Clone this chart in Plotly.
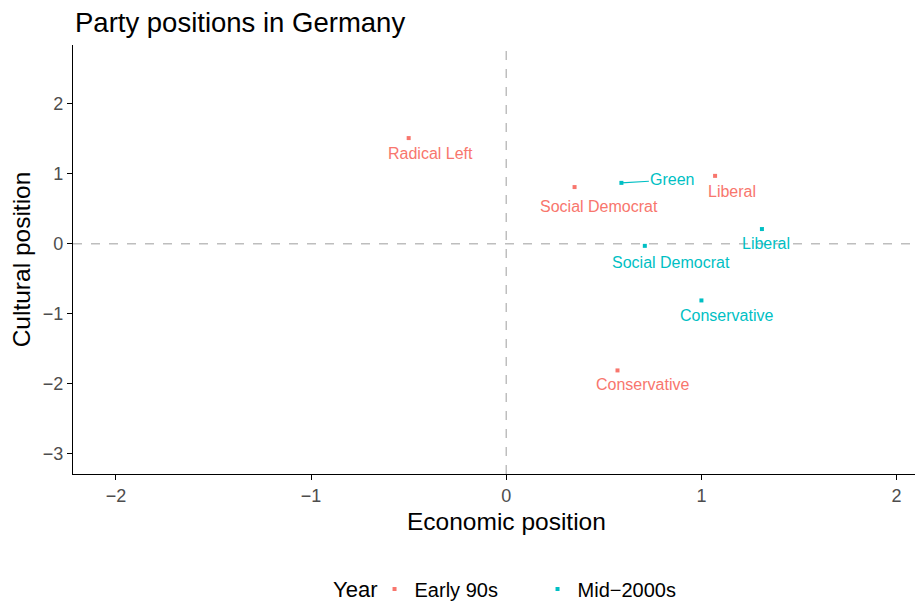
import plotly.graph_objects as go

# ---- data ----
parties_90s = ["Radical Left", "Social Democrat", "Liberal", "Conservative"]
econ_90s = [-0.50, 0.35, 1.07, 0.57]
cult_90s = [1.51, 0.81, 0.97, -1.81]

parties_00s = ["Green", "Social Democrat", "Liberal", "Conservative"]
econ_00s = [0.59, 0.71, 1.31, 1.00]
cult_00s = [0.87, -0.03, 0.21, -0.81]

x_ticks = [-2, -1, 0, 1, 2]
y_ticks = [-3, -2, -1, 0, 1, 2]

# label pixel offsets (repel-like placement)
shift_90s = [(22, -15), (24, -19), (17, -16), (25, -14)]
shift_00s = [(51, 3), (26, -17), (4, -14), (25, -15)]

RED = "#F8766D"
TEAL = "#00BFC4"
FONT = "Liberation Sans, Arial, sans-serif"
LBL = 16

W, H = 915, 594  # page body keeps an 8px margin
ML, MR, MT, MB = 65, 3, 37, 128
PH = H - MT - MB
PW = W - ML - MR

fig = go.Figure()
fig.add_trace(go.Scatter(x=econ_90s, y=cult_90s, mode="markers", name="Early 90s",
                         marker=dict(color=RED, size=4, symbol="square"), cliponaxis=False))
fig.add_trace(go.Scatter(x=econ_00s, y=cult_00s, mode="markers", name="Mid\u22122000s",
                         marker=dict(color=TEAL, size=4, symbol="square"), cliponaxis=False))

anns = []
for names, xs, ys, shifts, col in [(parties_90s, econ_90s, cult_90s, shift_90s, RED),
                                   (parties_00s, econ_00s, cult_00s, shift_00s, TEAL)]:
    for n, x, y, (dx, dy) in zip(names, xs, ys, shifts):
        if n == "Green":
            anns.append(dict(x=x, y=y, xref="x", yref="y", text=n, showarrow=True,
                             ax=dx, ay=-dy, arrowhead=0, arrowwidth=1.2, arrowcolor=col,
                             standoff=0, font=dict(color=col, size=LBL, family=FONT)))
        else:
            anns.append(dict(x=x, y=y, xref="x", yref="y", text=n, showarrow=False,
                             xshift=dx, yshift=dy, font=dict(color=col, size=LBL, family=FONT)))

# chart title
anns.append(dict(x=0, y=1 + (MT - 15) / PH, xref="paper", yref="paper",
                 xanchor="left", yanchor="middle", showarrow=False,
                 text="Party positions in Germany", font=dict(size=27.5, color="black", family=FONT)))
# x-axis title (centred like the reference, whose panel runs past the right edge)
anns.append(dict(x=(498 - ML) / PW, y=-(513 - (H - MB)) / PH, xref="paper", yref="paper",
                 xanchor="center", yanchor="middle", showarrow=False,
                 text="Economic position", font=dict(size=24.5, color="black", family=FONT)))
# legend title
anns.append(dict(x=(347 - ML) / PW, y=-(581 - (H - MB)) / PH, xref="paper", yref="paper",
                 xanchor="center", yanchor="middle", showarrow=False,
                 text="Year", font=dict(size=22, color="black", family=FONT)))

fig.update_layout(
    annotations=anns,
    width=W, height=H,
    margin=dict(l=ML, r=MR, t=MT, b=MB),
    paper_bgcolor="white", plot_bgcolor="white",
    font=dict(family=FONT, color="black"),
    xaxis=dict(range=[-2.22, 2.12], tickvals=x_ticks, ticktext=[str(v).replace("-", "\u2212") for v in x_ticks],
               showgrid=False, zeroline=False, showline=True, linecolor="black", linewidth=1.3,
               ticks="outside", ticklen=5, tickcolor="black", automargin=False,
               tickfont=dict(size=18, color="#4D4D4D")),
    yaxis=dict(range=[-3.29, 2.84], tickvals=y_ticks, ticktext=[str(v).replace("-", "\u2212") for v in y_ticks],
               showgrid=False, zeroline=False, showline=True, linecolor="black", linewidth=1.3,
               ticks="outside", ticklen=5, tickcolor="black", automargin=False,
               tickfont=dict(size=18, color="#4D4D4D"),
               title=dict(text="Cultural position", font=dict(size=24.5, color="black"), standoff=6)),
    legend=dict(orientation="h", x=0.356, xanchor="left", xref="paper",
                y=1 - 581 / H, yref="container", yanchor="middle",
                font=dict(size=20), itemsizing="trace", entrywidth=118),
    shapes=[
        dict(type="line", xref="x", yref="paper", x0=0, x1=0, y0=0, y1=1,
             line=dict(color="#BEBEBE", width=1.5, dash="dash"), layer="below"),
        dict(type="line", xref="paper", yref="y", x0=0, x1=1, y0=0, y1=0,
             line=dict(color="#BEBEBE", width=1.5, dash="dash"), layer="below"),
    ],
)

fig.write_html("out.html")
